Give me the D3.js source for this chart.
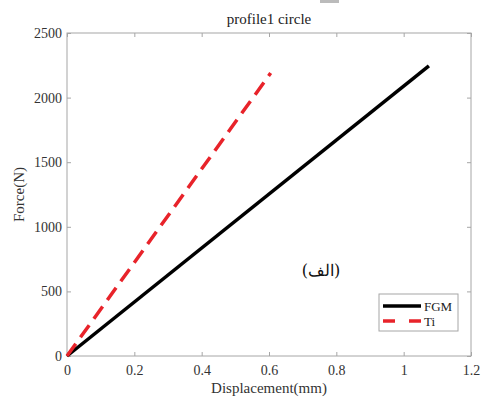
<!DOCTYPE html>
<html><head><meta charset="utf-8">
<script src="https://cdn.jsdelivr.net/npm/d3@7"></script>
<style>body{margin:0;background:#fff}svg{display:block}</style>
</head><body>
<script>
const xTicks = [0, 0.2, 0.4, 0.6, 0.8, 1, 1.2];
const yTicks = [0, 500, 1000, 1500, 2000, 2500];
const fgmX = [0, 1.075];
const fgmY = [0, 2245];
const tiX = [0, 0.605];
const tiY = [0, 2190];
const seriesNames = ["FGM", "Ti"];

const W = 481, H = 399;
const m = {l: 67, r: 471, t: 33, b: 356};
const svg = d3.select("body").append("svg").attr("width", W).attr("height", H);
const font = "'Liberation Serif', 'Times New Roman', serif";
const x = d3.scaleLinear().domain([0, 1.2]).range([m.l, m.r]);
const y = d3.scaleLinear().domain([0, 2500]).range([m.b, m.t]);

svg.append("rect").attr("x", 320).attr("y", 0).attr("width", 19).attr("height", 3).attr("fill", "#bbb");

svg.append("rect").attr("x", m.l).attr("y", m.t).attr("width", m.r - m.l).attr("height", m.b - m.t)
  .attr("fill", "none").attr("stroke", "#a6a6a6").attr("stroke-width", 1);

const gx = svg.append("g").attr("transform", `translate(0,${m.b})`)
  .call(d3.axisBottom(x).tickValues(xTicks).tickFormat(d3.format("")).tickSize(-4).tickPadding(9));
const gxt = svg.append("g").attr("transform", `translate(0,${m.t})`)
  .call(d3.axisTop(x).tickValues(xTicks).tickFormat("").tickSize(-4));
const gy = svg.append("g").attr("transform", `translate(${m.l},0)`)
  .call(d3.axisLeft(y).tickValues(yTicks).tickFormat(d3.format("d")).tickSize(-4).tickPadding(5));
const gyr = svg.append("g").attr("transform", `translate(${m.r},0)`)
  .call(d3.axisRight(y).tickValues(yTicks).tickFormat("").tickSize(-4));
[gx, gxt, gy, gyr].forEach(g => {
  g.attr("font-family", font).attr("font-size", 14);
  g.select(".domain").remove();
  g.selectAll(".tick line").attr("stroke", "#a6a6a6");
  g.selectAll("text").attr("font-family", font).attr("font-size", 14).attr("fill", "#333");
});

const line = d3.line().x(d => x(d[0])).y(d => y(d[1]));
svg.append("path").datum(fgmX.map((v, i) => [v, fgmY[i]])).attr("d", line)
  .attr("fill", "none").attr("stroke", "#000").attr("stroke-width", 3.5);
svg.append("path").datum(tiX.map((v, i) => [v, tiY[i]])).attr("d", line)
  .attr("fill", "none").attr("stroke", "#e8232a").attr("stroke-width", 3.5).attr("stroke-dasharray", "15,8");

svg.append("text").attr("x", (m.l + m.r) / 2).attr("y", 24).attr("text-anchor", "middle")
  .attr("font-family", font).attr("font-size", 15).attr("fill", "#222").text("profile1 circle");
svg.append("text").attr("x", (m.l + m.r) / 2).attr("y", 393).attr("text-anchor", "middle")
  .attr("font-family", font).attr("font-size", 15).attr("fill", "#333").text("Displacement(mm)");
svg.append("text").attr("transform", `translate(24,${(m.t + m.b) / 2}) rotate(-90)`).attr("text-anchor", "middle")
  .attr("font-family", font).attr("font-size", 15).attr("fill", "#333").text("Force(N)");

svg.append("text").attr("x", 321).attr("y", 276).attr("text-anchor", "middle").attr("direction", "rtl")
  .attr("font-family", "'DejaVu Serif', serif").attr("font-size", 16).attr("fill", "#111").text("(الف)");

const lg = svg.append("g");
lg.append("rect").attr("x", 379).attr("y", 294).attr("width", 79).attr("height", 37)
  .attr("fill", "#fff").attr("stroke", "#a6a6a6");
const colors = ["#000", "#e8232a"], dashes = [null, "12,14"];
seriesNames.forEach((n, i) => {
  const yy = 306 + i * 15;
  lg.append("line").attr("x1", 383).attr("x2", 421).attr("y1", yy).attr("y2", yy)
    .attr("stroke", colors[i]).attr("stroke-width", 3.5).attr("stroke-dasharray", dashes[i]);
  lg.append("text").attr("x", 424).attr("y", yy + 4.5).attr("font-family", font).attr("font-size", 13)
    .attr("fill", "#222").text(n);
});
</script>
</body></html>
